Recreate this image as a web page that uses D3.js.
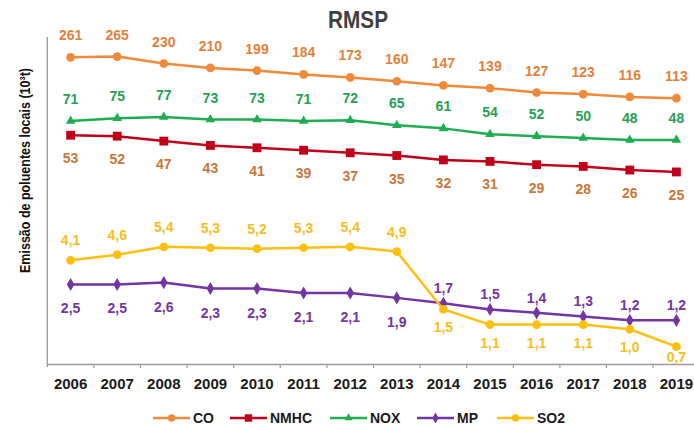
<!DOCTYPE html>
<html><head><meta charset="utf-8">
<script src="https://cdn.jsdelivr.net/npm/d3@7"></script>
<style>
html,body{margin:0;padding:0;background:#fff;}
svg{display:block;font-family:"Liberation Sans",Arial,sans-serif;}
</style></head>
<body><svg id="c" width="694" height="427"></svg>
<script>
const years = ["2006","2007","2008","2009","2010","2011","2012","2013","2014","2015","2016","2017","2018","2019"];
const CO   = [261,265,230,210,199,184,173,160,147,139,127,123,116,113];
const NMHC = [53,52,47,43,41,39,37,35,32,31,29,28,26,25];
const NOX  = [71,75,77,73,73,71,72,65,61,54,52,50,48,48];
const MP   = [2.5,2.5,2.6,2.3,2.3,2.1,2.1,1.9,1.7,1.5,1.4,1.3,1.2,1.2];
const SO2  = [4.1,4.6,5.4,5.3,5.2,5.3,5.4,4.9,1.5,1.1,1.1,1.1,1.0,0.7];
const seriesNames = ["CO","NMHC","NOX","MP","SO2"];
const title = "RMSP";
const yTitle = "Emissão de poluentes locais (10³t)";

const series = [
  {name:"CO",   values:CO,   color:"#EF8A3B", label:"#E0823C", sym:d3.symbolCircle,   size:60, pos:i=>"above"},
  {name:"NMHC", values:NMHC, color:"#C00018", label:"#C8773A", sym:d3.symbolSquare,   size:78, pos:i=>"below"},
  {name:"NOX",  values:NOX,  color:"#1EAD50", label:"#27A055", sym:d3.symbolTriangle, size:40, pos:i=>"above"},
  {name:"MP",   values:MP,   color:"#7235A2", label:"#7235A2", sym:d3.symbolDiamond,  size:50, pos:i=>i<8?"below":"above"},
  {name:"SO2",  values:SO2,  color:"#FDC010", label:"#F5BE22", sym:d3.symbolCircle,   size:60, pos:i=>i<8?"above":"below"}
];
const offs = {CO:{above:-17}, NMHC:{below:28}, NOX:{above:-17}, MP:{below:29, above:-10}, SO2:{above:-15, below:23}};

const svg = d3.select("#c");
const x = d3.scaleBand().domain(years).range([47.3, 699.7]);
const y = d3.scaleLog().domain([0.491, 395.7]).range([364, 37]);

// title
svg.append("text").attr("x",358).attr("y",28).attr("text-anchor","middle")
  .attr("font-size",24).attr("font-weight","bold").attr("fill","#3f3f3f")
  .attr("textLength",60).attr("lengthAdjust","spacingAndGlyphs").text(title);

// y title
svg.append("text").attr("transform","translate(29.5,170.5) rotate(-90)")
  .attr("text-anchor","middle").attr("font-size",15).attr("font-weight","bold").attr("fill","#111")
  .attr("textLength",205).attr("lengthAdjust","spacingAndGlyphs").text(yTitle);

// axes
svg.append("line").attr("x1",47.3).attr("x2",47.3).attr("y1",37).attr("y2",367)
  .attr("stroke","#9a9a9a").attr("stroke-width",1.3);
const xAxis = svg.append("g").attr("transform","translate(0,364)")
  .call(d3.axisBottom(x).tickSize(0).tickPadding(14));
xAxis.select(".domain").attr("stroke","#9a9a9a").attr("stroke-width",1.5);
xAxis.selectAll("text").attr("font-size",15).attr("font-weight","bold").attr("fill","#1a1a1a")
  .attr("font-family","Liberation Sans, Arial, sans-serif");
// boundary ticks
svg.append("g").selectAll("line").data(years.slice(1)).join("line")
  .attr("x1",d=>x(d)).attr("x2",d=>x(d)).attr("y1",364).attr("y2",368)
  .attr("stroke","#9a9a9a").attr("stroke-width",1.2);

const cx = d => x(d) + x.bandwidth()/2;
const line = d3.line().x((v,i)=>cx(years[i])).y(v=>y(v));

series.forEach(s=>{
  const g = svg.append("g");
  g.append("path").attr("d",line(s.values)).attr("fill","none")
    .attr("stroke",s.color).attr("stroke-width",2.5).attr("stroke-linejoin","round");
  g.selectAll("path.m").data(s.values).join("path").attr("class","m")
    .attr("transform",(v,i)=>`translate(${cx(years[i])},${y(v)})`)
    .attr("d",d3.symbol().type(s.sym).size(s.size)).attr("fill",s.color);
  g.selectAll("text").data(s.values).join("text")
    .attr("x",(v,i)=>cx(years[i]))
    .attr("y",(v,i)=>Math.min(y(v)+offs[s.name][s.pos(i)], 362))
    .attr("text-anchor","middle").attr("font-size",14).attr("font-weight","bold")
    .attr("fill",s.label)
    .text(v=>s.name==="MP"||s.name==="SO2" ? d3.format(".1f")(v).replace(".",",") : v);
});

// legend
const legX = [153,230,330,417,497];
const leg = svg.append("g");
series.forEach((s,i)=>{
  const lx = legX[i];
  leg.append("line").attr("x1",lx).attr("x2",lx+37).attr("y1",418).attr("y2",418)
    .attr("stroke",s.color).attr("stroke-width",2.5);
  leg.append("path").attr("transform",`translate(${lx+18.5},418)`)
    .attr("d",d3.symbol().type(s.sym).size(s.size*0.7)).attr("fill",s.color);
  leg.append("text").attr("x",lx+40).attr("y",423).attr("font-size",14)
    .attr("font-weight","bold").attr("fill","#1a1a1a").text(s.name);
});
</script></body></html>
